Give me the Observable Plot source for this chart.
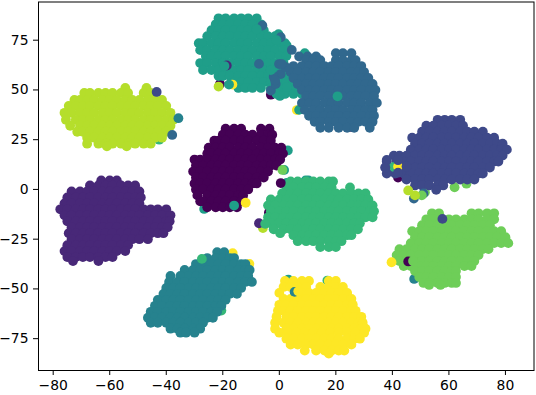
<!DOCTYPE html>
<html><head><meta charset="utf-8">
<script src="https://cdn.jsdelivr.net/npm/d3@7"></script>
<script src="https://cdn.jsdelivr.net/npm/@observablehq/plot@0.6"></script>
<style>html,body{margin:0;padding:0;background:#fff}svg{display:block}</style>
</head><body><div id="chart"></div>
<script>
const classes=[0,1,2,3,4,5,6,7,8,9];
const drawOrder=[0,1,2,5,3,4,6,7,8,9];
const viridis10=["#440154","#482878","#3e4989","#31688e","#26828e","#1f9e89","#35b779","#6ece58","#b5de2b","#fde725"];
const xTicks=[-80,-60,-40,-20,0,20,40,60,80];
const yTicks=[-75,-50,-25,0,25,50,75];
// each row: y, then the x of every point read along that row
const rows0=[
[30.5,-19,-16,-13.5,-6.5,-3.5],
[27.5,-20,-17.5,-14.5,-12,-9.5,-6.5,-4,-2.5],
[24.5,-23,-21.5,-19,-16,-13.5,-11,-8,-5.5,-3],
[21,-25,-22.5,-20,-17.5,-14.5,-12,-9.5,-6.5,-4,-1.5,0.7],
[18,-25.5,-24,-21.5,-19,-16,-13.5,-11,-8,-5.5,-3,0,1.3],
[15,-30,-28,-25.5,-22.5,-20,-17.5,-14.5,-12,-9.5,-6.5,-4,-1.5,0.3],
[12,-29.5,-27,-24,-21.5,-19,-16,-13.5,-11,-8,-5.5,-3,-1],
[9,-30.5,-28,-25.5,-22.5,-20,-17.5,-14.5,-12,-9.5,-6.5,-4],
[6,-29.5,-27,-24,-21.5,-19,-16,-13.5,-11,-8,-5.5],
[3,-30,-28,-25.5,-22.5,-20,-17.5,-14.5,-12,-9.5,-8],
[0,-29.5,-27,-24,-21.5,-19,-16,-13.5,-11],
[-3,-29,-25.5,-22.5,-20,-17.5,-14.5,-12.8],
[-6,-28,-27,-24,-21.5,-19,-16,-13.5],
[-9,-25.5,-22.5,-20,-17.5,-15]];
const rows1=[
[4.5,-63,-60,-57.5],
[2,-67,-64,-61.5,-59,-56,-53.5,-51],
[-1,-73.5,-70.5,-68,-65.5,-62.5,-60,-57.5,-54.5,-52,-49.5],
[-4,-75,-72,-69.5,-67,-64,-61.5,-59,-56,-53.5,-51,-49],
[-7,-76,-73.5,-70.5,-68,-65.5,-62.5,-60,-57.5,-54.5,-52,-49.5],
[-10,-77.5,-75,-72,-69.5,-67,-64,-61.5,-59,-56,-53.5,-51,-48,-45.5,-43,-40],
[-13,-76,-73.5,-70.5,-68,-65.5,-62.5,-60,-57.5,-54.5,-52,-49.5,-46.5,-44,-41.5,-38.5],
[-16,-75,-72,-69.5,-67,-64,-61.5,-59,-56,-53.5,-51,-48,-45.5,-43,-40,-38.8],
[-19,-73.5,-70.5,-68,-65.5,-62.5,-60,-57.5,-54.5,-52,-49.5,-46.5,-44,-41.5,-39.5],
[-22,-74.5,-72,-69.5,-67,-64,-61.5,-59,-56,-53.5,-51,-48,-45.5,-43,-41],
[-25,-73.5,-70.5,-68,-65.5,-62.5,-60,-57.5,-54.5,-52,-49.5,-46.5],
[-28,-75,-72,-69.5,-67,-64,-61.5,-59,-56,-53.5],
[-31,-76,-73.5,-70.5,-68,-65.5,-62.5,-60,-57.5,-54.5],
[-34,-75,-72,-69.5,-67,-64,-61.5,-59],
[-36,-73,-64]];
const rows2=[
[35,56,58.5,61,64],
[32,52,54.5,57.5,60,62.5,65],
[29,50.5,53,56,58.5,61,64,66.5,69,72],
[26,47,49.5,52,54.5,57.5,60,62.5,65.5,68,70.5,73.5,76],
[23,48,50.5,53,56,58.5,61,64,66.5,69,72,74.5,77,79],
[20,46.5,49.5,52,54.5,57.5,60,62.5,65.5,68,70.5,73.5,76,78.5,80.5],
[17,40.5,42.5,45,48,50.5,53,56,58.5,61,64,66.5,69,72,74.5,77,79],
[14,38,41.5,44,46.5,49.5,52,54.5,57.5,60,62.5,65.5,68,70.5,73.5,76,77.5],
[11,37.5,40,42.5,45,48,50.5,53,56,58.5,61,64,66.5,69,72,74.5],
[8,41,44,46.5,49.5,52,54.5,57.5,60,62.5,65.5,68,70.5,72],
[5,45,48,50.5,53,56,58.5,61,64,66.5,69],
[2,48,50.5,53,56,58],
[-0.2,55.5]];
const rows3=[
[68.5,20,22.5,25.5],
[66.8,7,10,13],
[65,9.5,12,14.5,20,22.5,25.5,27],
[62,5,8,10.5,13,16,18.5,21,24,26.5,29],
[59,4,6.5,9.5,12,14.5,17.5,20,22.5,25.5,28,30],
[56,5,8,10.5,13,16,18.5,21,24,26.5,29,31.5],
[53,6.5,9.5,12,14.5,17.5,20,22.5,25.5,28,30.5,33],
[50,8,10.5,13,16,18.5,21,24,26.5,29,32,34],
[47,9.5,12,14.5,17.5,20,22.5,25.5,28,30.5,33.5],
[43.5,8,10.5,13,16,18.5,21,24,26.5,29,32,34.5],
[40,9,12,14.5,17.5,20,22.5,25.5,28,30.5,33],
[37,10.5,13,16,18.5,21,24,26.5,29,32,33.5],
[34,12.5,14.5,17.5,20,22.5,25.5,28,30.5,33],
[31,14.5,17.5,21,24,26.5,32]];
const rows4=[
[-31.5,-22,-19.5],
[-34.5,-25.5,-22.5,-20,-17.5,-16],
[-37.5,-29.5,-27,-24,-21.5,-19,-16,-13.5,-12],
[-40.5,-33.5,-30.5,-28,-25.5,-22.5,-20,-17.5,-14.5,-12,-10.5],
[-43.5,-38.5,-35,-32,-29.5,-27,-24,-21.5,-19,-16,-13.5,-11],
[-46.5,-39,-36,-33.5,-30.5,-28,-25.5,-22.5,-20,-17.5,-14.5,-12,-9.7],
[-49.5,-40,-37.5,-35,-32,-29.5,-27,-24,-21.5,-19,-16,-13.5],
[-52.5,-41,-38.5,-36,-33.5,-30.5,-28,-25.5,-22.5,-20,-17.5,-15],
[-55.5,-43,-40,-37.5,-35,-32,-29.5,-27,-24,-21.5,-19],
[-58.5,-44,-41.5,-38.5,-36,-33.5,-30.5,-28,-25.5,-22.5,-20.5],
[-61.5,-45.5,-43,-40,-37.5,-35,-32,-29.5,-27,-24,-22],
[-64.5,-46.5,-44,-41.5,-38.5,-36,-33.5,-30.5,-28,-25.5,-23.5],
[-67,-45.5,-43,-40,-37.5,-35,-32,-29.5,-27],
[-70,-38.5,-36,-33.5,-30.5,-28],
[-72,-35,-33,-30]];
const rows5=[
[86,-21.5,-19,-16,-13.5,-11,-8],
[83,-22.5,-20,-17.5,-14.5,-12,-9.5,-6.5],
[80,-24,-21.5,-19,-16,-13.5,-11,-8,-5.5],
[77,-25.5,-22.5,-20,-17.5,-14.5,-12,-9.5,-6.5,-4,-1.5,0],
[73.5,-28.5,-27,-24,-21.5,-19,-16,-13.5,-11,-8,-5.5,-3,0,2],
[70,-28,-25.5,-22.5,-20,-17.5,-14.5,-12,-9.5,-6.5,-4,-1.5,1.5],
[67,-26,-24,-21.5,-19,-16,-13.5,-11,-8,-5.5,-3,0,2.5],
[63.5,-28,-25.5,-22.5,-20,-17.5,-14.5,-12,-9.5,-6.5,-4,-1.5,1.5],
[60,-27,-24,-21.5,-19,-16,-13.5,-11,-8,-5.5,-3,0,2.5],
[57,-21.5,-20,-17.5,-14.5,-12,-9.5,-6.5,-4,-1.5,1.5,4],
[54,-16,-13.5,-11,-8,-5.5,-3,0,2.5,5],
[51,-14.5,-12,-9.5,-6.5,-3,0,3,6],
[48,-1,2,5,8]];
const rows6=[
[4,4,6.5,9.5,12,14.5,17.5,19],
[1,2.5,5,8,10.5,13,16,18.5,25],
[-2,1,4,6.5,9.5,12,14.5,17.5,20,22.5,25.5,28,30.5],
[-5,-3,0,2.5,5,8,10.5,13,16,18.5,21,24,26.5,29,31.5],
[-8,-4,-1.5,1.5,4,6.5,9.5,12,14.5,17.5,20,22.5,25.5,28,30.5,33],
[-11,-3,0,2.5,5,8,10.5,13,16,18.5,21,24,26.5,29,32,33.5],
[-14,-4,-1.5,1.5,4,6.5,9.5,12,14.5,17.5,20,22.5,25.5,28,30.5,33],
[-17,-3,0,2.5,5,8,10.5,13,16,18.5,21,24,26.5,28.5],
[-20,-2,1.5,4,6.5,9.5,12,14.5,17.5,20,22.5,25.5,27.8],
[-22,0.3],
[-23,5,8,10.5,13,16,18.5,21,24,25.5],
[-26,6.5,9.5,12,14.5,17.5,20,22],
[-29,14.5,17.5,20]];
const rows7=[
[-12,54,56.5,68,70.5,73.5,76],
[-15,52,54.5,57.5,60,62.5,65.5,68,70.5,73.5,76],
[-18,50.5,53,56,58.5,61,64,66.5,69,72,74.5],
[-21,47,49.5,52,54.5,57.5,60,62.5,65.5,68,70.5,73.5,76,78.5],
[-24,48,50.5,53,56,58.5,61,64,66.5,69,72,74.5,77,80],
[-27,46.5,49.5,52,54.5,57.5,60,62.5,65.5,68,70.5,73.5,76,78.5,81],
[-30,42.5,45,48,50.5,53,56,58.5,61,64,66.5,69,72,74],
[-33,41.5,44,46.5,49.5,52,54.5,57.5,60,62.5,65.5,68,70.5],
[-36,42.5,45,48,50.5,53,56,58.5,61,64,66.5,69],
[-38.5,44,46.5,49.5,52,54.5,57.5,60,62.5,65.5,68],
[-41,48,50.5,53,56,58.5,61,62.5],
[-44,49.5,52,54.5,57.5,60,62.5],
[-47,51,53,56,58.5,61,62.5],
[-48,53,57]];
const rows8=[
[51,-54.5,-47],
[48.5,-69,-67,-64,-61.5,-59,-56,-53.5,-48,-45.5],
[45,-72.5,-70.5,-68,-65.5,-62.5,-60,-57.5,-54.5,-52,-49.5,-46.5,-44,-41.5],
[42,-74.5,-72,-69.5,-67,-64,-61.5,-59,-56,-53.5,-51,-48,-45.5,-43,-40],
[38.5,-76,-73.5,-70.5,-68,-65.5,-62.5,-60,-57.5,-54.5,-52,-49.5,-46.5,-44,-41.5,-38.5],
[35,-75.5,-72,-69.5,-67,-64,-61.5,-59,-56,-53.5,-51,-48,-45.5,-43,-40,-37.5],
[32,-74,-70.5,-68,-65.5,-62.5,-60,-57.5,-54.5,-52,-49.5,-46.5,-44,-41.5,-38.5],
[29,-71.5,-69.5,-67,-64,-61.5,-59,-56,-53.5,-51,-48,-45.5,-43,-40],
[26,-68,-65.5,-62.5,-60,-57.5,-54.5,-52,-49.5,-46.5,-44,-41.5],
[23,-68,-64,-61.5,-59,-56,-53.5,-51,-48,-45.5],
[21.7,-61,-54]];
const rows9=[
[-46,2,5,8,10.5,17.5,20],
[-49,1.5,4,6.5,9.5,14.5,17.5,20,22.5],
[-52,0,8,10.5,13,16,18.5,21,24],
[-55,1.5,4,6.5,9.5,12,14.5,17.5,20,22.5,25.5],
[-58,0,2.5,5,8,10.5,13,16,18.5,21,24,26],
[-61,-0.5,1.5,4,6.5,9.5,12,14.5,17.5,20,22.5,25.5,27],
[-64,-1,2.5,5,8,10.5,13,16,18.5,21,24,26.5,29],
[-67,-1.5,1.5,4,6.5,9.5,12,14.5,17.5,20,22.5,25.5,28,29.5],
[-70,-1.5,2.5,5,8,10.5,13,16,18.5,21,24,26.5,29,30.5],
[-72,0,3,6,9,12,15,18,21,24,27,30],
[-75,2.5,5,8,10.5,13,16,18.5,21,24,26.5,28.5],
[-78,4,6.5,9.5,12,14.5,17.5,20,22.5,25.5],
[-81,9,13,16,18.5,21,23],
[-82.5,17.5]];
const clusterRows=[rows0,rows1,rows2,rows3,rows4,rows5,rows6,rows7,rows8,rows9];
// stray points lying behind the clusters: class, x, y
const strayUnder=[
[6,-42.5,25],[0,-21,53],[0,-3,47.6],[5,9,68.5],[5,2.6,72.3],[5,-0.3,78],[0,25.6,31.3],[9,6.2,39.9],[5,7,40],
[5,-26.6,-9.8],[5,3,19.6],[5,1.7,9.8],[5,2.6,3.3],[0,-3.7,-11.7],[8,-5.8,-19.4],[5,9.3,4.5],[5,10.3,4.5],
[7,62,1.1],[7,66.2,2.9],[0,42,6],[3,47.6,-4.6],[7,51.5,-1.4],[5,3.2,-45.3],[6,17,-45.8],[9,-10.6,-37.4],[9,-16.5,-32],
[6,-20.5,-60.9],[4,47.7,-45]];
// stray points drawn over the clusters: class, x, y
const strayOver=[
[2,-43.4,49],[4,-35.7,35.8],[3,-37.9,27.4],[9,-16.6,52.7],[5,-17.8,52.7],[8,-21.5,51.7],
[1,-18.6,62.3],[5,-19.4,62],[3,-6,82.4],[5,-8,80.5],[3,0.5,76.5],[5,-1,75],[3,-7.2,63.1],
[3,-0.1,63],[3,-3,49.7],[3,-1.3,53],[3,0.5,58],[3,2.2,61.5],[3,-2,56.6],[3,4.4,70.1],[3,0.85,63],[3,-1.5,54.8],
[5,2.6,51.4],[5,0.2,47],[5,-3,60],[5,20.6,46.8],
[5,-16,-8.1],[9,-11.9,-6.7],[7,1.1,9.8],[0,0.5,3.2],[1,-7.2,-17],[6,-5,-17.3],
[8,45.6,-0.5],[3,51,-2],[7,50.4,-3],[8,48,-3],[6,40.5,11.3],[9,42,11.5],[2,42,14.7],[2,42,8.4],[2,38,14.8],[2,38,8],[2,37.5,11],[2,45,11.5],
[2,57.7,-14.8],[9,39.7,-36.6],[0,45.6,-36.2],[7,47.3,-36],
[4,5.4,-51.5],[9,6.7,-51.2],[6,-27.4,-34.9]];
const toPoints=(rows,c)=>rows.flatMap(([y,...xs])=>xs.map(x=>({c,x,y})));
const strayPoints=list=>list.map(([c,x,y])=>({c,x,y}));
const points=[...strayPoints(strayUnder),...drawOrder.flatMap(c=>toPoints(clusterRows[c],c)),...strayPoints(strayOver)];
const chart=Plot.plot({
  width:536,height:395,marginLeft:38,marginRight:2.5,marginTop:1.5,marginBottom:25,
  style:{fontFamily:"'DejaVu Sans'",color:"#000",background:"#fff"},
  x:{domain:[-85.2,90.1],label:null},
  y:{domain:[-91,94.2],label:null},
  color:{type:"ordinal",domain:classes,range:viridis10},
  marks:[
    Plot.dot(points,{x:"x",y:"y",fill:"c",r:4.9,stroke:null}),
    Plot.frame({stroke:"#000",strokeWidth:1,strokeOpacity:1}),
    Plot.axisX({ticks:xTicks,tickSize:5,tickPadding:5,label:null,stroke:"#000",strokeOpacity:1,fill:"#000",fontSize:13.9}),
    Plot.axisY({ticks:yTicks,tickSize:5,tickPadding:5,label:null,stroke:"#000",strokeOpacity:1,fill:"#000",fontSize:13.9})
  ]
});
document.getElementById("chart").appendChild(chart);
</script></body></html>
